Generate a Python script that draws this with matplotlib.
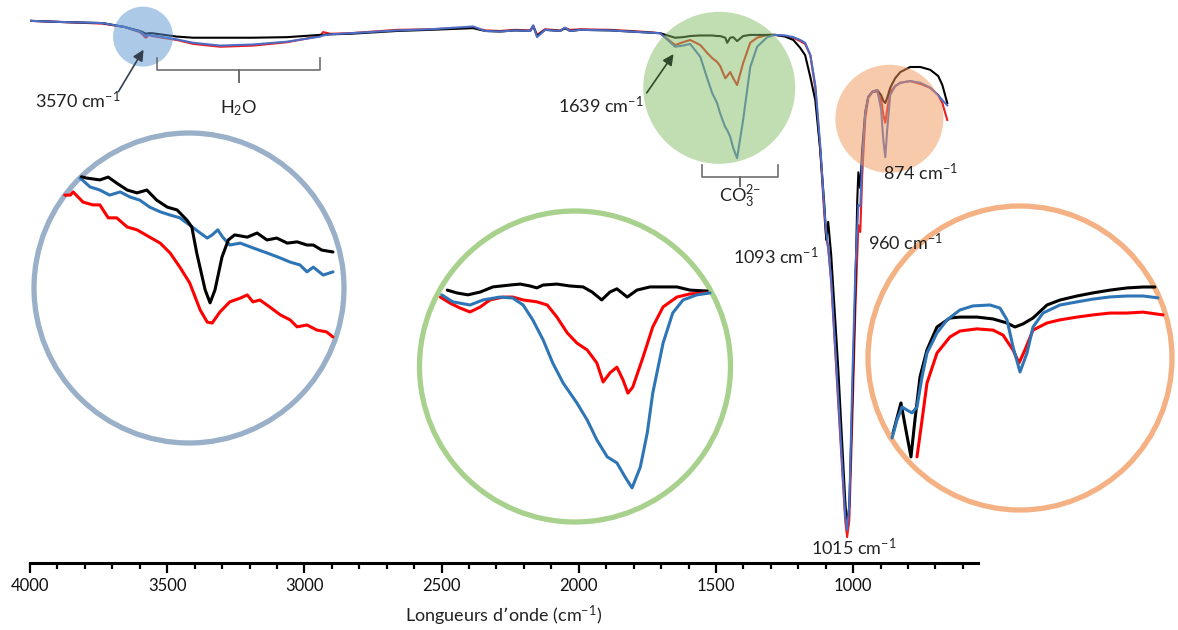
import matplotlib
matplotlib.use("Agg")
import matplotlib.pyplot as plt
from matplotlib.patches import Circle
from matplotlib.transforms import ScaledTranslation
from matplotlib.ticker import MultipleLocator

plt.rcParams['font.family'] = ['Lato', 'DejaVu Sans']
plt.rcParams['mathtext.default'] = 'regular'

# ---------------- main spectrum (wavenumber, transmittance %) ----------------
wn = [4000, 3890, 3735, 3655, 3600, 3590, 3578, 3567, 3555, 3465, 3405, 3307, 3187, 3063,
      2943, 2932, 2905, 2833, 2662, 2542, 2385, 2341, 2287, 2232, 2177, 2166, 2152, 2123,
      2068, 2050, 2032, 1995, 1886, 1776, 1703, 1649, 1620, 1594, 1557, 1532, 1514, 1496,
      1485, 1466, 1459, 1448, 1437, 1423, 1401, 1375, 1350, 1313, 1284, 1248, 1218, 1193,
      1175, 1156, 1138, 1120, 1105, 1098, 1091, 1080, 1054, 1029, 1022, 1014, 1003, 992,
      985, 981, 974, 967, 956, 945, 930, 912, 898, 890, 883, 876, 865, 847, 828, 792, 755,
      719, 690, 675, 657]
t_black = [96.3, 96.1, 95.9, 95.2, 94.5, 94.3, 94.0, 94.1, 94.1, 93.5, 93.3, 93.3, 93.3, 93.4,
           93.8, 93.8, 93.9, 94.0, 94.5, 94.7, 95.0, 94.5, 94.4, 94.6, 94.5, 95.4, 93.6, 94.7,
           94.5, 95.0, 94.5, 94.7, 94.6, 94.3, 94.1, 93.3, 93.4, 93.6, 93.7, 93.7, 93.7, 93.6,
           93.6, 93.3, 92.4, 93.3, 93.4, 92.7, 93.6, 93.8, 93.8, 93.8, 93.8, 93.5, 92.9, 91.5,
           90.2, 86.3, 82.2, 73.4, 63.6, 57.4, 60.6, 54.7, 34.3, 11.2, 6.4, 10.3, 29.0, 48.5,
           64.5, 69.4, 66.6, 73.4, 80.1, 82.8, 83.7, 84.0, 83.1, 82.1, 81.7, 82.6, 84.4, 86.1, 87.2,
           88.1, 88.1, 87.6, 86.5, 84.9, 81.7]
t_red = [96.3, 96.1, 95.8, 95.2, 94.3, 93.9, 93.3, 93.8, 93.6, 92.9, 92.2, 91.7, 91.9, 92.5,
         93.6, 94.3, 94.0, 94.1, 94.7, 94.8, 95.1, 94.6, 94.5, 94.7, 94.6, 95.4, 93.8, 94.8,
         94.6, 95.0, 94.7, 94.8, 94.7, 94.4, 94.1, 92.0, 92.5, 92.9, 92.0, 90.6, 89.7, 89.0,
         88.3, 86.1, 86.5, 87.2, 86.1, 84.9, 88.8, 92.4, 93.3, 93.8, 93.8, 93.6, 93.3, 92.7,
         92.2, 90.2, 84.4, 73.4, 61.8, 57.7, 56.0, 49.9, 28.1, 7.6, 4.6, 7.6, 25.4, 44.9,
         54.7, 60.0, 58.8, 68.9, 79.0, 82.6, 83.7, 83.7, 82.2, 79.6, 78.2, 80.5, 83.7, 84.7, 85.3,
         85.6, 85.1, 84.4, 83.1, 81.7, 78.7]
t_blue = [96.3, 96.1, 95.9, 95.2, 94.4, 94.1, 93.6, 93.8, 93.7, 93.0, 92.4, 91.9, 92.1, 92.6,
          93.5, 93.7, 93.9, 94.1, 94.6, 94.8, 95.3, 94.5, 94.4, 94.6, 94.5, 95.5, 93.4, 94.7,
          94.5, 95.1, 94.5, 94.7, 94.6, 94.3, 94.1, 91.7, 91.9, 92.2, 89.9, 86.1, 83.5, 81.7,
          79.9, 77.4, 76.9, 75.7, 73.7, 71.9, 78.7, 88.1, 91.7, 93.4, 93.8, 93.7, 93.4, 92.9,
          92.4, 90.2, 84.9, 74.2, 62.7, 58.8, 56.0, 50.3, 29.0, 8.5, 5.9, 10.3, 32.5, 52.0,
          59.5, 63.6, 63.4, 71.6, 79.9, 82.8, 83.7, 84.0, 80.5, 75.1, 72.1, 76.9, 83.1, 84.7, 85.3,
          85.6, 85.3, 84.4, 83.1, 82.2, 81.3]

# ---------------- inset 1 : O-H region around 3570 cm-1 (relative scale) ----------------
i1_black_wn = [3758, 3751, 3732, 3720, 3708, 3693, 3679, 3665, 3651, 3636, 3622, 3608, 3601, 3594,
               3582, 3575, 3568, 3558, 3549, 3540, 3522, 3508, 3494, 3480, 3465, 3451, 3437, 3428,
               3416, 3400]
i1_black_v = [85.2, 84.8, 84.2, 85.1, 83.2, 81.0, 80.1, 81.0, 77.8, 75.6, 74.7, 71.5, 69.3, 61.1,
              49.4, 45.3, 49.4, 59.8, 65.2, 66.8, 66.1, 67.4, 65.2, 65.8, 64.2, 64.6, 63.6, 63.6,
              62.0, 61.4]
i1_blue_wn = [3760, 3746, 3732, 3718, 3703, 3689, 3675, 3661, 3646, 3632, 3618, 3604, 3589, 3579,
              3572, 3564, 3557, 3547, 3532, 3514, 3494, 3475, 3461, 3447, 3437, 3428, 3414, 3400]
i1_blue_v = [84.8, 82.0, 81.0, 79.4, 80.4, 78.8, 77.8, 75.6, 74.1, 73.1, 72.2, 69.9, 67.4, 65.8,
             66.8, 68.4, 66.1, 63.6, 64.2, 62.7, 61.1, 59.5, 58.2, 57.3, 55.1, 56.6, 54.1, 55.1]
i1_red_wn = [3782, 3774, 3770, 3756, 3742, 3732, 3720, 3708, 3693, 3679, 3661, 3646, 3632, 3618,
             3604, 3589, 3579, 3572, 3561, 3547, 3532, 3522, 3514, 3504, 3490, 3475, 3461, 3451,
             3437, 3423, 3409, 3400]
i1_red_v = [79.4, 79.4, 80.4, 77.2, 76.3, 76.3, 72.2, 72.2, 69.3, 68.4, 66.1, 64.2, 61.1, 56.6,
            51.6, 43.0, 39.2, 38.9, 42.4, 45.6, 46.8, 47.8, 45.6, 46.2, 44.0, 41.5, 39.9, 37.7,
            38.3, 36.7, 36.1, 34.5]

# ---------------- inset 2 : carbonate region ----------------
i2_black_wn = [1688, 1674, 1658, 1640, 1622, 1597, 1582, 1568, 1558, 1549, 1529, 1510, 1491, 1478,
               1464, 1452, 1442, 1427, 1413, 1394, 1375, 1355, 1336, 1311]
i2_black_v = [74.1, 73.2, 72.6, 73.5, 75.1, 75.7, 76.0, 75.4, 74.8, 75.7, 76.0, 75.4, 75.1, 73.5,
              71.0, 73.5, 74.5, 71.9, 74.1, 75.1, 75.1, 75.1, 74.1, 73.8]
i2_red_wn = [1698, 1684, 1670, 1655, 1640, 1626, 1607, 1593, 1578, 1558, 1543, 1529, 1514, 1500,
             1485, 1471, 1462, 1452, 1442, 1433, 1426, 1419, 1404, 1390, 1375, 1355, 1336, 1311]
i2_red_v = [71.9, 70.0, 68.5, 67.2, 68.8, 71.0, 71.9, 71.9, 71.0, 70.4, 69.4, 65.6, 60.6, 57.4,
            55.2, 51.1, 45.1, 48.0, 49.8, 45.7, 41.6, 43.5, 53.0, 62.5, 68.8, 71.9, 72.9, 73.2]
i2_blue_wn = [1696, 1680, 1655, 1636, 1612, 1593, 1578, 1564, 1549, 1535, 1520, 1500, 1485, 1471,
              1456, 1442, 1430, 1420, 1408, 1398, 1390, 1375, 1361, 1346, 1326, 1307]
i2_blue_v = [72.6, 70.4, 69.4, 71.0, 71.9, 71.6, 69.4, 64.7, 58.4, 51.1, 44.8, 38.5, 33.1, 26.8,
             21.5, 19.6, 15.1, 11.7, 18.3, 29.0, 41.6, 57.4, 66.9, 71.0, 72.6, 73.2]

# ---------------- inset 3 : 960 / 874 cm-1 region ----------------
i3_blue_wn = [980.2, 976.1, 971.9, 967.8, 963.6, 959.5, 955.3, 951.2, 942.9, 934.6, 923.8, 913.0,
              898.9, 890.6, 884.8, 879.8, 874.0, 868.2, 863.2, 854.9, 840.8, 826.7, 813.4, 799.3,
              785.2, 771.9, 759.5]
i3_blue_v = [24.2, 30.0, 34.2, 33.2, 32.3, 34.2, 43.9, 51.6, 58.1, 62.3, 65.5, 66.8, 67.1, 66.1,
             62.3, 53.6, 45.5, 51.6, 60.0, 64.5, 67.1, 68.1, 69.0, 69.7, 70.0, 70.0, 69.4]
i3_black_wn = [979.4, 972.8, 968.7, 964.5, 961.2, 957.0, 951.2, 942.9, 932.1, 923.8, 909.7, 896.4,
               884.8, 878.2, 871.5, 863.2, 851.6, 840.8, 826.7, 813.4, 799.3, 785.2, 771.9, 762.0]
i3_black_v = [25.8, 35.5, 26.8, 18.1, 30.0, 43.9, 52.6, 60.0, 62.9, 63.2, 63.2, 62.6, 61.3, 60.0,
              61.0, 62.9, 67.1, 68.7, 70.0, 71.0, 71.9, 72.6, 72.9, 72.9]
i3_red_wn = [959.5, 955.3, 951.2, 942.9, 932.1, 923.8, 909.7, 896.4, 888.1, 879.8, 874.8, 869.9,
             863.2, 851.6, 840.8, 826.7, 813.4, 799.3, 785.2, 771.9, 755.3]
i3_red_v = [18.1, 30.0, 41.9, 51.6, 56.8, 58.7, 59.4, 59.0, 57.4, 52.6, 48.4, 52.6, 59.0, 61.3,
            62.3, 63.2, 63.9, 64.5, 64.5, 64.8, 63.9]

# annotation values
h2o_span = (3537, 2943)
co3_span = (1550, 1273)

# ---------------- figure ----------------
W, H, DPI = 1178, 630, 100
fig = plt.figure(figsize=(W / DPI, H / DPI), dpi=DPI)

def px_axes(x0, y0, x1, y1):
    return fig.add_axes([x0 / W, (H - y1) / H, (x1 - x0) / W, (y1 - y0) / H])

ax = px_axes(30, 0, 978, 563)
ax.set_zorder(5)
ax.patch.set_visible(False)

c_black, c_red, c_blue = '#000000', '#EE1C1C', '#4C6CC6'
ax.plot(wn, t_red, color=c_red, lw=1.5, zorder=2)
ax.plot(wn, t_black, color=c_black, lw=1.5, zorder=2)
ax.plot(wn, t_blue, color=c_blue, lw=1.5, zorder=2)
ax.set_xlim(4000, 545)
ax.set_ylim(0, 100)

for s in ['left', 'right', 'top']:
    ax.spines[s].set_visible(False)
ax.spines['bottom'].set_linewidth(2.2)
ax.set_yticks([])
ax.xaxis.set_major_locator(MultipleLocator(500))
ax.xaxis.set_minor_locator(MultipleLocator(100))
ax.tick_params(axis='x', which='major', length=7, width=1.6, labelsize=12, pad=4, direction='out')
ax.tick_params(axis='x', which='minor', length=4, width=1.6, direction='out')
ax.set_xlabel('Longueurs d\u2019onde (cm$^{-1}$)', fontsize=13, labelpad=7, color='#222222')
for lab in ax.get_xticklabels():
    lab.set_color('#111111')

# translucent highlight disks on the main spectrum
def disk(w, t, r_px, color, alpha):
    tr = fig.dpi_scale_trans + ScaledTranslation(w, t, ax.transData)
    c = Circle((0, 0), r_px / DPI, transform=tr, facecolor=color, alpha=alpha,
               edgecolor='none', zorder=3, clip_on=False)
    ax.add_artist(c)

disk(3588, 93.5, 30, '#5A96D2', 0.5)
disk(1488, 84.4, 76, '#82BE64', 0.5)
disk(868, 78.9, 54, '#F0965A', 0.5)

# braces
def brace(span, t_top, t_bar, t_tip):
    a, b = span
    m = (a + b) / 2
    ax.plot([a, a, m, m, m, b, b], [t_top, t_bar, t_bar, t_tip, t_bar, t_bar, t_top],
            color='#6F6F6F', lw=1.2, zorder=4, solid_joinstyle='round')

brace(h2o_span, 89.7, 87.6, 85.5)
brace(co3_span, 70.7, 68.6, 67.0)

fs = 13
tc = '#222222'
ax.text(3825, 82.2, '3570 cm$^{-1}$', fontsize=fs, ha='center', va='center', color=tc, zorder=6)
ax.annotate('', xy=(3581, 91.6), xytext=(3683, 83.3),
            arrowprops=dict(arrowstyle='-|>', color='#344050', lw=1.2, mutation_scale=16), zorder=6)
ax.text(3240, 80.8, 'H$_2$O', fontsize=fs, ha='center', va='center', color=tc, zorder=6)
ax.text(1918, 81.3, '1639 cm$^{-1}$', fontsize=fs, ha='center', va='center', color=tc, zorder=6)
ax.annotate('', xy=(1649, 90.8), xytext=(1758, 83.1),
            arrowprops=dict(arrowstyle='-|>', color='#2F4A2A', lw=1.2, mutation_scale=16), zorder=6)
ax.text(1412, 65.0, 'CO$_3^{2{-}}$', fontsize=fs, ha='center', va='center', color=tc, zorder=6)
ax.text(1127, 54.4, '1093 cm$^{-1}$', fontsize=fs, ha='right', va='center', color=tc, zorder=6)
ax.text(945, 57.0, '960 cm$^{-1}$', fontsize=fs, ha='left', va='center', color=tc, zorder=6)
ax.text(890, 69.4, '874 cm$^{-1}$', fontsize=fs, ha='left', va='center', color=tc, zorder=6)
ax.text(996, 2.8, '1015 cm$^{-1}$', fontsize=fs, ha='center', va='center', color=tc, zorder=6)

# ---------------- insets ----------------
ic_black, ic_red, ic_blue = '#000000', '#FF0000', '#2E75B6'

def inset(box, xlim, ring_color, series):
    a = px_axes(*box)
    a.set_xlim(*xlim)
    a.set_ylim(0, 100)
    a.axis('off')
    size = box[2] - box[0]
    ring = Circle((0.5, 0.5), 0.5 - 3.0 / size, transform=a.transAxes, fill=False,
                  edgecolor=ring_color, lw=3.8, clip_on=False)
    a.add_patch(ring)
    for x, y, c in series:
        a.plot(x, y, color=c, lw=2.2, solid_capstyle='round', clip_on=False)
    return a

inset((31, 130, 347, 446), (3830, 3380), '#9AB0C9',
      [(i1_red_wn, i1_red_v, ic_red), (i1_blue_wn, i1_blue_v, ic_blue),
       (i1_black_wn, i1_black_v, ic_black)])
inset((416.5, 208, 733.5, 525), (1732.6, 1272.9), '#A9D18E',
      [(i2_black_wn, i2_black_v, ic_black), (i2_red_wn, i2_red_v, ic_red),
       (i2_blue_wn, i2_blue_v, ic_blue)])
inset((865, 203, 1175, 513), (1002.65, 745.35), '#F4B183',
      [(i3_red_wn, i3_red_v, ic_red), (i3_black_wn, i3_black_v, ic_black),
       (i3_blue_wn, i3_blue_v, ic_blue)])

fig.savefig('out.png', dpi=DPI)
